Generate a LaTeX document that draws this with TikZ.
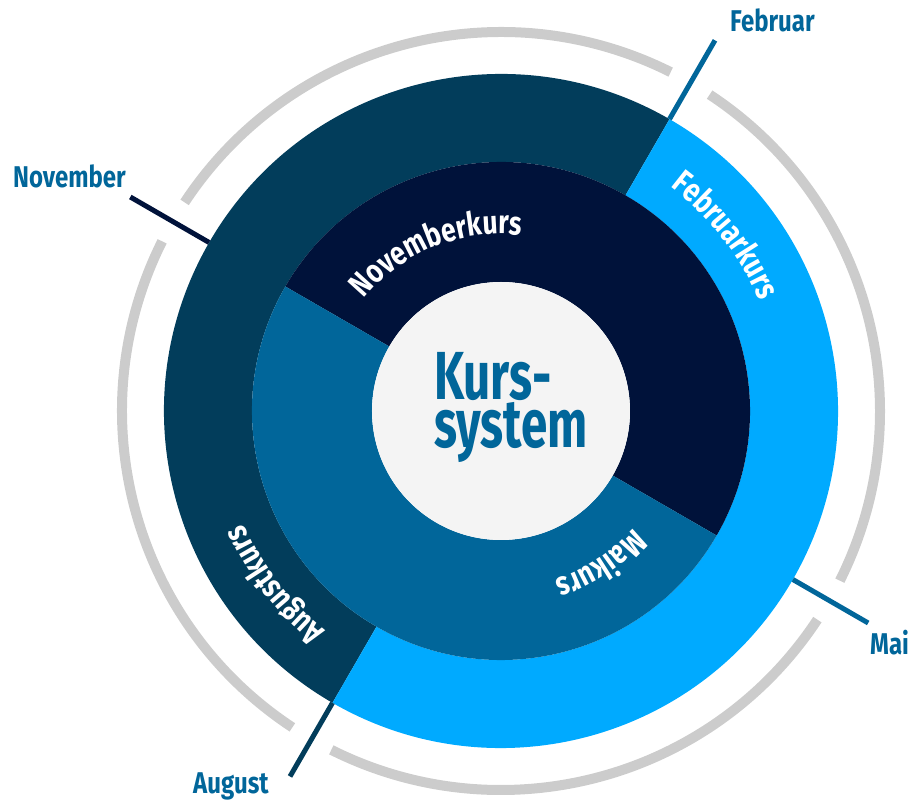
\documentclass[tikz,border=0pt]{standalone}
\usepackage{fontspec}
\setmainfont{Fira Sans}
\newfontfamily\labelfont{Fira Sans}[FakeStretch=0.8]
\newfontfamily\kernfont{Fira Sans}[FakeStretch=0.7]
\usetikzlibrary{decorations.text}

\definecolor{kteal}{HTML}{023D5B}
\definecolor{ksky}{HTML}{00AAFF}
\definecolor{knavy}{HTML}{00123A}
\definecolor{kblue}{HTML}{01669A}
\definecolor{kpale}{HTML}{F4F4F4}
\definecolor{kgray}{HTML}{CCCCCC}

\newcommand{\arcfont}{\labelfont\fontsize{33}{39}\selectfont\bfseries}

\begin{document}
\begin{tikzpicture}[x=1pt,y=1pt]
%%%%%%%%%%%%%%%%%%%%%%%%%%%%%%%%%%%%%%%%%%%%%%%%%%%%%%%%
% STYLE
\tikzstyle{month}=[inner sep=0pt, anchor=base west, text=kblue, font=\labelfont\fontsize{30}{36}\selectfont\bfseries]
\tikzstyle{title}=[inner sep=0pt, anchor=base west, text=kblue, font=\kernfont\fontsize{68}{80}\selectfont\bfseries]
\tikzstyle{tick}=[line width=5pt]
\tikzset{grayarc/.style={draw=kgray, line width=10pt}}
\tikzset{arctext/.style={decorate, decoration={text along path, text align=center, text color=white, text={|\arcfont|#1}}}}

\useasboundingbox (-501,-391) rectangle (418,411);

%%%%%%%%%%%%%%%%%%%%%%%%%%%%%%%%%%%%%%%%%%%%%%%%%%%%%%%%
% RINGS
\fill[kteal] (60:249) arc[start angle=60, end angle=240, radius=249] -- (240:337) arc[start angle=240, end angle=60, radius=337] -- cycle;
\fill[ksky] (-120:249) arc[start angle=-120, end angle=60, radius=249] -- (60:337) arc[start angle=60, end angle=-120, radius=337] -- cycle;
\fill[knavy] (-30:129) arc[start angle=-30, end angle=150, radius=129] -- (150:249) arc[start angle=150, end angle=-30, radius=249] -- cycle;
\fill[kblue] (150:129) arc[start angle=150, end angle=330, radius=129] -- (330:249) arc[start angle=330, end angle=150, radius=249] -- cycle;
\fill[kpale] (0,0) circle[radius=129];

\draw[grayarc] (63.4:379) arc[start angle=63.4, end angle=146.6, radius=379];
\draw[grayarc] (153.4:379) arc[start angle=153.4, end angle=236.6, radius=379];
\draw[grayarc] (243.4:379) arc[start angle=243.4, end angle=326.6, radius=379];
\draw[grayarc] (333.4:379) arc[start angle=333.4, end angle=416.6, radius=379];

%%%%%%%%%%%%%%%%%%%%%%%%%%%%%%%%%%%%%%%%%%%%%%%%%%%%%%%%
% NODES
\node[title] (kurs) at (-67,11) {Kurs-};
\node[title] (system) at (-67,-37) {system};

\path[arctext=Novemberkurs] (172:177) arc[start angle=172, end angle=52, radius=177];
\path[arctext=Februarkurs] (98:281) arc[start angle=98, end angle=-22, radius=281];
\path[arctext=Maikurs] (3:177) arc[start angle=3, end angle=-117, radius=177];
\path[arctext=Augustkurs] (277.5:281) arc[start angle=277.5, end angle=157.5, radius=281];

\node[month] (feb) at (229,379) {Februar};
\node[month] (nov) at (-488,223) {November};
\node[month] (mai) at (369,-244) {Mai};
\node[month] (aug) at (-308,-383) {August};

\coordinate (Fin) at (60:337);   \coordinate (Fout) at (60:428);
\coordinate (Nin) at (150:337);  \coordinate (Nout) at (150:428);
\coordinate (Min) at (-30:337);  \coordinate (Mout) at (-30:424);
\coordinate (Ain) at (240:337);  \coordinate (Aout) at (240:422);

%%%%%%%%%%%%%%%%%%%%%%%%%%%%%%%%%%%%%%%%%%%%%%%%%%%%%%%%
% LINKS
\draw[tick, kblue] (Fin) -- (Fout);
\draw[tick, knavy] (Nin) -- (Nout);
\draw[tick, kblue] (Min) -- (Mout);
\draw[tick, kteal] (Ain) -- (Aout);
\end{tikzpicture}
\end{document}
